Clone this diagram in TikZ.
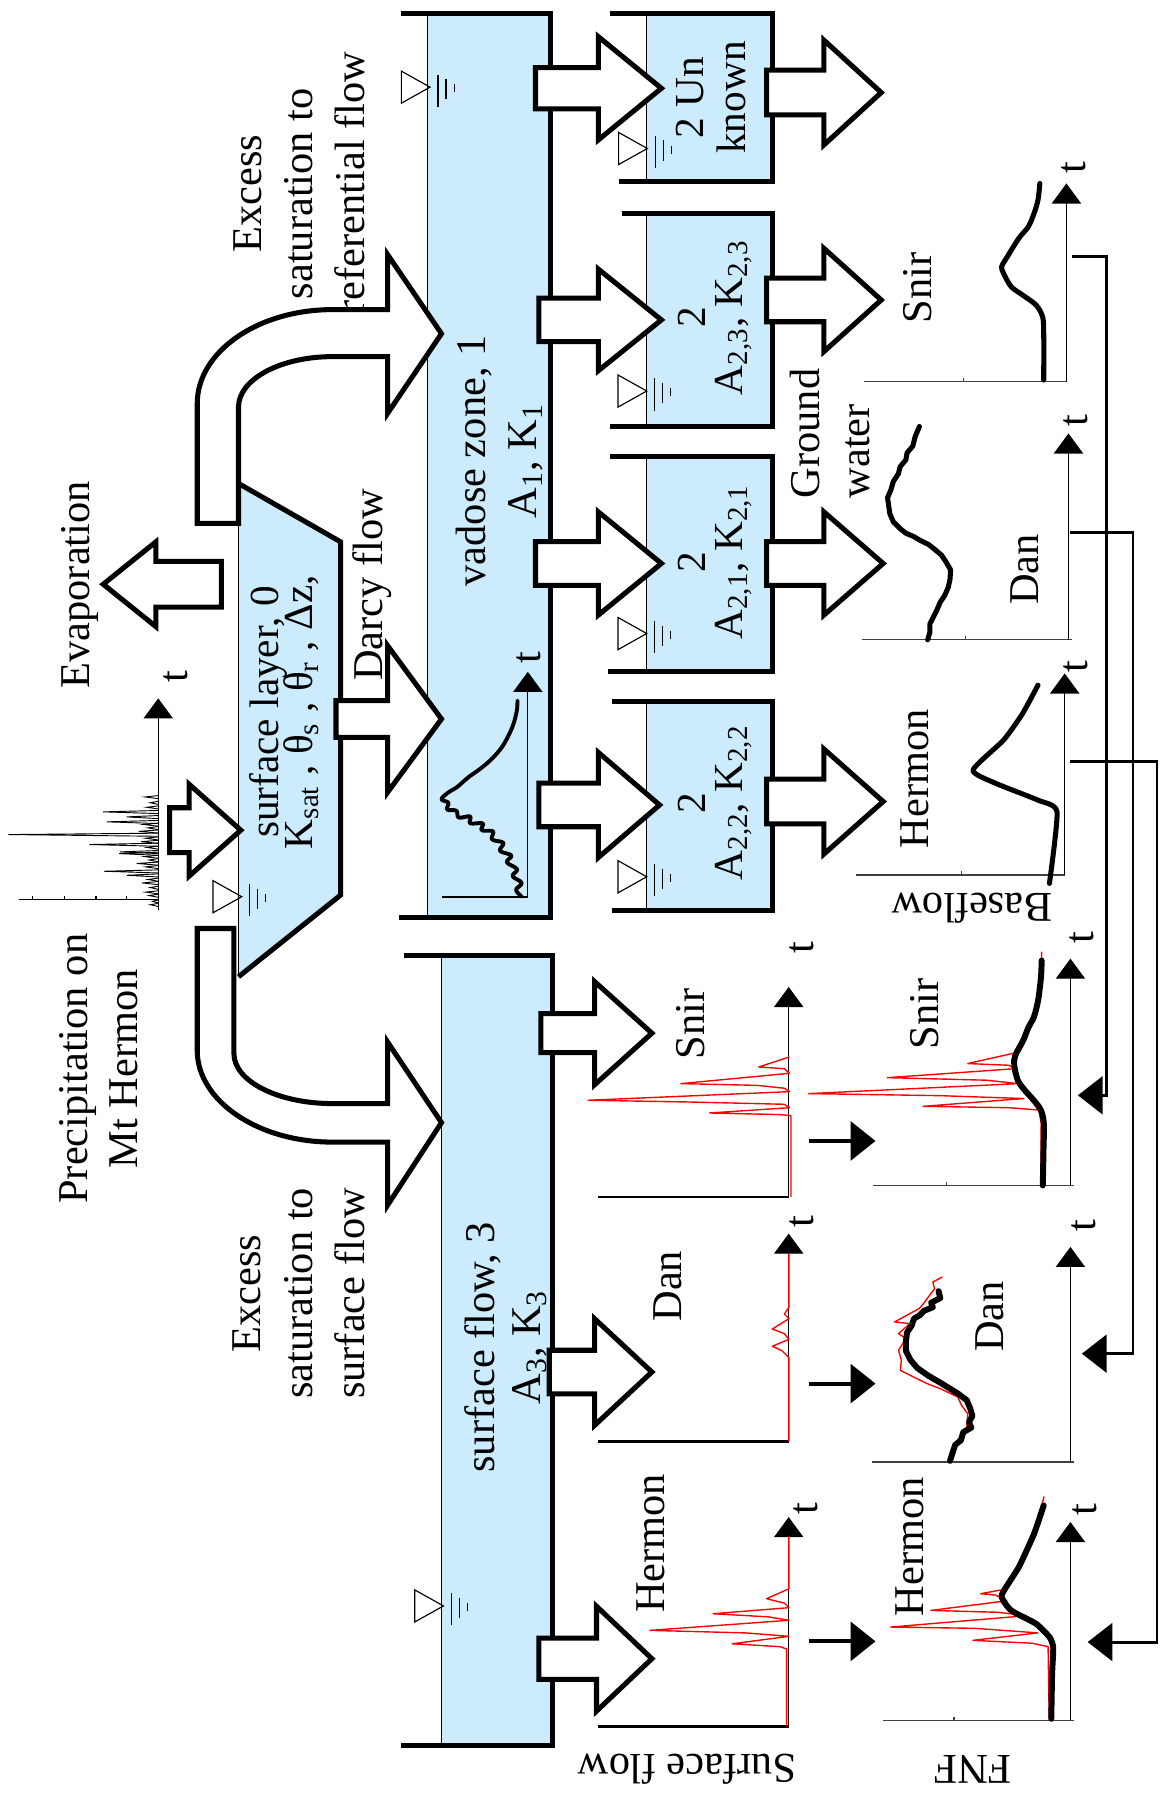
\documentclass[tikz,border=0pt]{standalone}
\usepackage{fontspec}
\setmainfont{Liberation Serif}
\usetikzlibrary{arrows.meta}
\definecolor{water}{RGB}{204,235,252}
\newcommand{\tightfont}[1]{\fontsize{18}{#1}\selectfont\lineskiplimit=-30pt\relax}
\tikzstyle{wall}=[line width=2.2pt]
\tikzstyle{hair}=[line width=0.5pt]
\tikzstyle{flow}=[draw=black, fill=white, line width=2.2pt]
\tikzstyle{taxis}=[line width=0.5pt, -{Triangle[length=8.75pt,width=12.75pt]}]
\tikzstyle{baseaxis}=[line width=0.6pt, black!75]
\tikzstyle{link}=[line width=1.25pt, -{Triangle[length=10.8pt,width=16.5pt]}]
\tikzstyle{feed}=[line width=1.75pt, -{Triangle[length=10.8pt,width=16.8pt]}]
\tikzstyle{txt}=[inner sep=0pt, rotate=90, align=center, font=\fontsize{18.5}{21.5}\selectfont]
\tikzstyle{upside}=[inner sep=0pt, rotate=180, font=\fontsize{18.5}{21.5}\selectfont]
\tikzstyle{obs}=[red, line width=0.6pt, line join=round]
\tikzstyle{sim}=[black, line width=2.6pt, line join=round, line cap=round]
\tikzstyle{spike}=[line width=0.4pt]
\newcommand{\fatarrow}[6]{\draw[flow] (#1,#4-#5) -- (#2,#4-#5) -- (#2,#4-#6) -- (#3,#4) -- (#2,#4+#6) -- (#2,#4+#5) -- (#1,#4+#5) -- cycle;}
\newcommand{\wlevel}[2]{%
	\draw[hair] (#1-25,#2-14) -- (#1,#2) -- (#1-25,#2+14) -- cycle;
	\draw[hair] (#1+7,#2-11) -- (#1+7,#2+17);
	\draw[hair] (#1+14,#2-7) -- (#1+14,#2+10.5);
	\draw[hair] (#1+21,#2-2.5) -- (#1+21,#2+4.5);}
\newcommand{\reservoir}[6]{%
	\fill[water] (#1,#5) rectangle (#2,#6);
	\draw[hair] (#1,#5) -- (#1,#6);
	\draw[wall] (#3,#5) -- (#2,#5) -- (#2,#6) -- (#4,#6);}

\begin{document}
\begin{tikzpicture}[x=0.5pt, y=-0.5pt]
	\useasboundingbox (0,0) rectangle (1011,1568);

	% reservoirs
	\reservoir{373}{480}{350}{348}{11.6}{800}
	\reservoir{385}{482}{352}{350}{833}{1522}
	\reservoir{563.5}{673.5}{531.8}{540}{11.6}{158.4}
	\reservoir{563.5}{673.5}{542.3}{532.1}{186}{372.2}
	\reservoir{563.5}{673.5}{531.8}{530}{398.3}{585.9}
	\reservoir{563.5}{673.5}{533.5}{533.5}{612}{793.7}

	\fill[water] (208,421.6) -- (297,472.5) -- (297,780.6) -- (208,851.8) -- cycle;
	\draw[hair] (208,421.6) -- (208,851.8);
	\draw[wall] (208,421.6) -- (297,472.5) -- (297,780.6) -- (208,851.8);

	\wlevel{375}{76}
	\wlevel{210.8}{782}
	\wlevel{386.7}{1400.5}
	\wlevel{564.5}{129.5}
	\wlevel{564}{341}
	\wlevel{564}{552.5}
	\wlevel{564}{764.6}

	% texts
	\node (precip) [txt, font=\fontsize{18.5}{21.5}\selectfont] at (86,932) {Precipitation on\\Mt Hermon};
	\node (evap) [txt] at (69.5,510) {Evaporation};
	\node (excessPref) [txt, font=\fontsize{18.5}{22.5}\selectfont] at (264.5,169) {Excess\\saturation to\\preferential flow};
	\node (excessSurf) [txt, font=\fontsize{18.5}{22.5}\selectfont] at (260.5,1128) {Excess\\saturation to\\surface flow};
	\node (surfLayer) [txt, font=\tightfont{15pt}] at (248,621) {surface layer, 0\\K\textsubscript{sat} , θ\textsubscript{s} , θ\textsubscript{r} , Δz,};
	\node (darcy) [txt] at (324.7,510) {Darcy flow};
	\node (vadose) [txt, font=\fontsize{18.5}{22}\selectfont] at (435.5,402) {vadose zone, 1\\A\textsubscript{1}, K\textsubscript{1}};
	\node (surfFlow) [txt, font=\fontsize{18.5}{20}\selectfont] at (441,1175) {surface flow, 3\\A\textsubscript{3}, K\textsubscript{3}};
	\node (tankU) [txt, font=\tightfont{18.5pt}] at (620,85) {2 Un\\known};
	\node (tankA23) [txt, font=\tightfont{16pt}] at (623.7,277) {2\\A\textsubscript{2,3}, K\textsubscript{2,3}};
	\node (tankA21) [txt, font=\tightfont{16pt}] at (623.7,490) {2\\A\textsubscript{2,1}, K\textsubscript{2,1}};
	\node (tankA22) [txt, font=\tightfont{16pt}] at (623.7,700) {2\\A\textsubscript{2,2}, K\textsubscript{2,2}};
	\node (gwater) [txt, align=left, anchor=west, font=\fontsize{18.5}{21.75}\selectfont] at (723.5,435) {Ground\\water};

	\node (gwSnir) [txt] at (800,251) {Snir};
	\node (gwDan) [txt] at (894,496.5) {Dan};
	\node (gwHermon) [txt] at (797.7,679) {Hermon};
	\node (sfSnir) [txt] at (602,892.7) {Snir};
	\node (sfDan) [txt] at (582.4,1121.6) {Dan};
	\node (sfHermon) [txt] at (567.7,1346) {Hermon};
	\node (fnfSnir) [txt] at (806,884) {Snir};
	\node (fnfDan) [txt] at (863.5,1148) {Dan};
	\node (fnfHermon) [txt] at (793.5,1349) {Hermon};
	\node (baseflow) [upside] at (847.6,792) {Baseflow};
	\node (sflowLbl) [upside] at (599.4,1543) {Surface flow};
	\node (fnfLbl) [upside] at (848.5,1543) {FNF};

	\foreach \tx/\ty [count=\i] in {153/590, 461/573.5, 936/146.5, 938/367, 938/581, 699/826, 699/1065, 702.6/1315.5, 943/818, 945/1069, 946/1316.5}
		\node (t\i) [txt] at (\tx,\ty) {t};

	% block arrows
	\fatarrow{148}{165}{210}{724}{19.6}{40}
	\fatarrow{193}{136}{90}{509.5}{20}{37}
	\fatarrow{293}{338}{385}{627}{16}{64}
	\fatarrow{467}{521.8}{576.8}{77}{18}{45}
	\fatarrow{470}{521.8}{576.8}{279}{19}{44.3}
	\fatarrow{467}{521.8}{576.8}{491.4}{19}{45}
	\fatarrow{470}{521.8}{575.2}{702}{19}{45.8}
	\fatarrow{668.5}{718.5}{768.5}{80.7}{19.5}{45.7}
	\fatarrow{668.5}{718.5}{768.5}{261.6}{19}{45}
	\fatarrow{668.5}{718.5}{770.2}{491.4}{19}{45}
	\fatarrow{668.5}{718.5}{770.2}{699}{19.5}{45.8}
	\fatarrow{471.7}{518.5}{568.5}{901}{17}{45}
	\fatarrow{479}{518.5}{568.5}{1196.5}{19}{46.5}
	\fatarrow{470}{520.2}{568.5}{1446.5}{18}{45.7}

	\draw[flow] (172,456.5) -- (172,352) .. controls (172,306.7) and (224.9,270) .. (290,270) -- (338,270) -- (338,222) -- (385,291) -- (338,360.5) -- (338,311) -- (290,311) .. controls (244.7,311) and (208,330.7) .. (208,355) -- (208,456.5) -- cycle;
	\draw[flow] (172,809.7) -- (172,916) .. controls (172,960) and (225,996) .. (290,996) -- (338,996) -- (338,1051) -- (385,979) -- (338,908.7) -- (338,962.4) -- (290,962.4) .. controls (242.5,962.4) and (204,942.9) .. (204,918.8) -- (204,809.7) -- cycle;

	% precipitation record
	\draw[hair] (138,784.5) -- (17,784.5);
	\foreach \tx in {28.5,56,83.7,110.5}
		\draw[hair] (\tx,784.5) -- (\tx,781);
	\foreach \py/\px in {695/126.5, 700/131, 704/128, 708/90, 712.4/110.5, 716.7/93, 719/125, 722/129, 725/121, 727.8/7.3, 731/127, 734/123, 736.5/77.9, 739/128, 742.9/104.7, 744.4/104, 747/126, 750/130, 753/119.2, 756/127, 759.8/90.7, 763.3/110.5, 767/129, 770/124, 774/131, 778/127, 781/130, 786/133, 789/131}
		\draw[spike] (138,\py-1.2) -- (\px,\py) -- (138,\py+1.5);
	\draw[taxis] (138,793.7) -- (138,609);

	% vadose response
	\draw[hair] (385.3,782.2) -- (460.3,782.2);
	\draw[taxis] (460.3,782.2) -- (460.3,585.9);
	\draw[line width=1.7pt, line join=round, line cap=round] plot[smooth, tension=0.6] coordinates {(455,782) (450,776) (455,770) (447,764) (451,758) (442,752) (446,746) (436,742) (439,735) (429,732) (430,725) (420,724) (421,718) (410,718) (410,712) (400,713) (398,707) (390,706) (391,700) (385,697) (391,691) (398.4,686.5) (408.5,677.8) (418.7,670.5) (428.9,661.8) (437.6,651.7) (443.4,641.5) (447.8,631.3) (450.7,619.7) (451.3,611)};

	% groundwater responses
	\draw[baseaxis] (753.5,332.8) -- (930,332.8) (840,332.8) -- (840,329.5);
	\draw[taxis] (930,332.8) -- (930,160);
	\draw[sim, line width=2.2pt] plot[smooth] coordinates {(910.2,331.4) (910.2,290.7) (909.2,276.2) (903.5,266) (891.8,257.3) (881.8,250) (875.2,238.4) (873.5,232.6) (878.5,223.8) (888.5,207.8) (896.8,197.7) (901.8,186) (905.2,174.4) (906.8,160)};

	\draw[baseaxis] (751.8,557.7) -- (935,557.7) (841.8,557.7) -- (841.8,554.5);
	\draw[taxis] (931.8,557.7) -- (931.8,378);
	\draw[sim, line width=2.2pt] (801.8,372) -- (798,381) -- (796,389) -- (791,395) -- (790,401) -- (785,407) -- (783.5,413) -- (779,420) -- (777,427) -- (774,434) -- (775,441) -- (776,448) -- (779,455) -- (785,461) -- (790,465) -- (797,468) -- (802,471) -- (810,475) -- (815,479) -- (821,484) -- (825,490) -- (829,497) -- (828.5,505) -- (827,512) -- (824,519) -- (820,525) -- (817,532) -- (814,538) -- (811,544) -- (811,551) -- (809,558);

	\draw[baseaxis] (746.8,763.2) -- (928.5,763.2) (838.5,763.2) -- (838.5,760);
	\draw[taxis] (928.5,763.2) -- (928.5,587.3);
	\draw[sim, line width=2.2pt] plot[smooth, tension=0.35] coordinates {(915.2,770.4) (921.8,708) (905.2,697.8) (868.5,683.2) (848.5,671.6) (875.2,645.4) (891.8,622.2) (905.2,597.5)};

	% surface flow records
	\draw[line width=1pt] (521.8,1043.8) -- (687.8,1043.8);
	\draw[taxis] (687.8,1043.8) -- (687.8,860.7);
	\draw[obs] (688.5,921.7) -- (661.7,930.5) -- (684,932) -- (688.5,936) -- (593.8,945) -- (660,946.5) -- (684,949) -- (688.5,952) -- (512.8,959.5) -- (600,961) -- (684,963) -- (688.5,966) -- (618.7,970.6) -- (680,972) -- (689.8,973) -- (689.8,1043.8);

	\draw[line width=1pt] (521.8,1257) -- (687.8,1257);
	\draw[taxis] (687.8,1257) -- (687.8,1075.8);
	\draw[obs] (688,1093) -- (688,1140) -- (684,1146) -- (688,1150) -- (673.5,1159) -- (684,1163) -- (688,1168) -- (673.5,1174) -- (682,1178) -- (688,1184) -- (688,1257);

	\draw[line width=1pt] (521.8,1505.5) -- (687.8,1505.5);
	\draw[taxis] (687.8,1505.5) -- (687.8,1323);
	\draw[obs] (688,1340) -- (688,1385.5) -- (668.5,1394.2) -- (684,1398) -- (688,1402) -- (621.8,1407.3) -- (670,1410) -- (688,1413) -- (566.8,1421.8) -- (650,1424) -- (688,1427) -- (638.5,1433.5) -- (680,1436) -- (686,1438) -- (686,1505.5);

	% FNF records
	\draw[baseaxis] (761.4,1033.7) -- (937,1033.7) (825.3,1033.7) -- (825.3,1030.5);
	\draw[taxis] (933.5,1033.7) -- (933.5,836);
	\draw[obs] (908.4,830) -- (907.8,852.2) -- (905.3,872.5) -- (901.6,887) -- (897,895.7) -- (892.3,907.3) -- (886,918) -- (844,927.5) -- (880,929) -- (885,932) -- (773.8,939.8) -- (860,942) -- (888,945) -- (705.3,953.7) -- (820,955.5) -- (893,958) -- (805,964.8) -- (880,966) -- (906,968) -- (908,980) -- (907.7,1035);
	\draw[sim] plot[smooth] coordinates {(909.4,1033.7) (910,1003) (910.3,979.9) (907.8,968.3) (901.6,959.6) (893.8,950.9) (887.6,942.2) (884.5,929.1) (885.4,920.4) (892.3,907.3) (897,895.7) (901.6,887) (905.3,872.5) (907.8,852.2) (908.4,837.6)};

	\draw[baseaxis] (760.2,1275) -- (937,1275) (830,1275) -- (830,1271.8);
	\draw[taxis] (933.5,1275) -- (933.5,1087.4);
	\draw[obs] (821.8,1113.6) -- (813.5,1118) -- (815,1124) -- (811.8,1128) -- (806,1136) -- (801.8,1141) -- (780.2,1152.8) -- (793.5,1154.3) -- (783.5,1163) -- (790.2,1167.4) -- (783.5,1177.5) -- (786,1186) -- (785.2,1195) -- (795,1200) -- (808.5,1206.6) -- (820,1211) -- (835.2,1218.3) -- (838.5,1225.5) -- (844,1233) -- (843,1245) -- (836,1255) -- (831,1262) -- (827,1276);
	\draw[sim] (818.5,1126) -- (820,1132) -- (812,1136) -- (813.5,1140) -- (806,1143) -- (802,1147) -- (797,1150) -- (795,1156) -- (791,1162) -- (790,1170) -- (790,1178) -- (794,1186) -- (800,1193) -- (810,1200) -- (822,1207) -- (835,1215) -- (843,1221) -- (846,1228) -- (848,1235) -- (845,1240) -- (847,1245) -- (840,1249) -- (838,1256) -- (833,1260) -- (831,1266) -- (828.5,1274);

	\draw[baseaxis] (770.2,1500.3) -- (937,1500.3) (831.8,1500.3) -- (831.8,1497);
	\draw[taxis] (933.5,1500.3) -- (933.5,1327.3);
	\draw[obs] (910.5,1305) -- (901.8,1337.5) -- (888.5,1366.6) -- (876,1386) -- (855.2,1389.8) -- (868,1391) -- (878,1396) -- (811.8,1404.4) -- (870,1406) -- (895,1409) -- (776.8,1418.9) -- (850,1420) -- (905,1424) -- (848.5,1430.5) -- (900,1433) -- (914,1436) -- (915,1500);
	\draw[sim] plot[smooth, tension=0.3] coordinates {(916.8,1498.9) (917.5,1460) (918.5,1436.4) (915.2,1427.6) (903.5,1416) (881.8,1404.4) (873.5,1391.3) (888.5,1366.6) (901.8,1337.5) (910.2,1312.8)};

	% surface flow into FNF
	\coordinate (feedSnirA) at (705.2,995);
	\coordinate (feedSnirB) at (763.5,995);
	\coordinate (feedDanA) at (705.2,1206.6);
	\coordinate (feedDanB) at (763.5,1206.6);
	\coordinate (feedHermonA) at (705.2,1431.4);
	\coordinate (feedHermonB) at (763.5,1431.4);
	\draw[feed] (feedSnirA) -- (feedSnirB);
	\draw[feed] (feedDanA) -- (feedDanB);
	\draw[feed] (feedHermonA) -- (feedHermonB);

	% baseflow into FNF
	\coordinate (snirOut) at (935,224);
	\coordinate (snirIn) at (940,955.2);
	\coordinate (danOut) at (933.5,464.6);
	\coordinate (danIn) at (943.5,1180.5);
	\coordinate (hermonOut) at (933.5,664.3);
	\coordinate (hermonIn) at (948.5,1432);
	\draw[link] (snirOut) -- ++(30,0) |- (snirIn);
	\draw[link] (danOut) -- ++(54.5,0) |- (danIn);
	\draw[link] (hermonOut) -- ++(75.5,0) |- (hermonIn);

\end{tikzpicture}
\end{document}
